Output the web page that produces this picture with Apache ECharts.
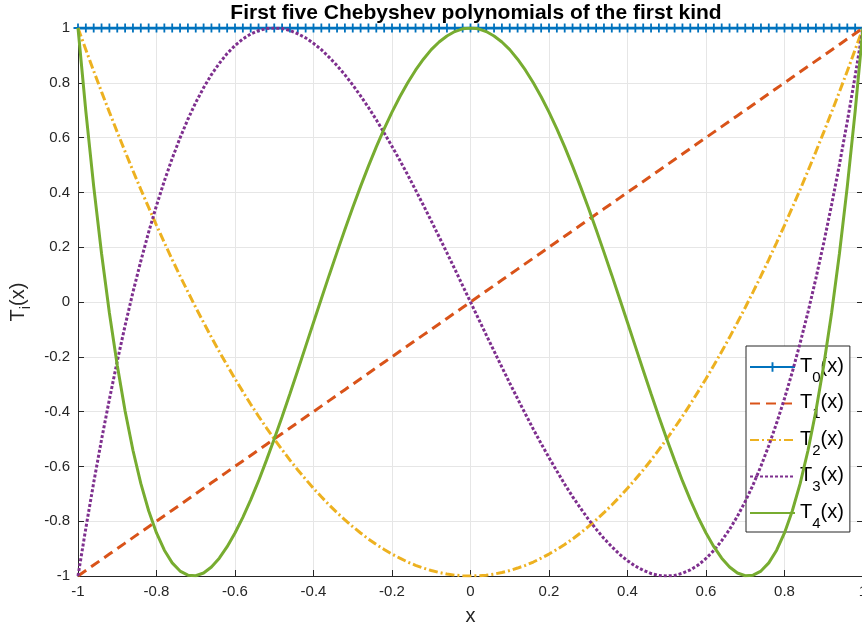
<!DOCTYPE html>
<html>
<head>
<meta charset="utf-8">
<script src="https://cdn.jsdelivr.net/npm/echarts@6/dist/echarts.min.js"></script>
<style>
  html, body { margin: 0; padding: 0; background: #fff; }
  #chart { width: 862px; height: 630px; }
</style>
</head>
<body>
<div id="chart"></div>
<script>
  // sample points, x = -1 : 0.02 : 1
  var xs = [-1,-0.98,-0.96,-0.94,-0.92,-0.9,-0.88,-0.86,-0.84,-0.82,-0.8,-0.78,-0.76,-0.74,-0.72,-0.7,-0.68,-0.66,-0.64,-0.62,-0.6,-0.58,-0.56,-0.54,-0.52,-0.5,-0.48,-0.46,-0.44,-0.42,-0.4,-0.38,-0.36,-0.34,-0.32,-0.3,-0.28,-0.26,-0.24,-0.22,-0.2,-0.18,-0.16,-0.14,-0.12,-0.1,-0.08,-0.06,-0.04,-0.02,
    0,0.02,0.04,0.06,0.08,0.1,0.12,0.14,0.16,0.18,0.2,0.22,0.24,0.26,0.28,0.3,0.32,0.34,0.36,0.38,0.4,0.42,0.44,0.46,0.48,0.5,0.52,0.54,0.56,0.58,0.6,0.62,0.64,0.66,0.68,0.7,0.72,0.74,0.76,0.78,0.8,0.82,0.84,0.86,0.88,0.9,0.92,0.94,0.96,0.98,1];

  var t0 = [1,1,1,1,1,1,1,1,1,1,1,1,1,1,1,1,1,1,1,1,1,1,1,1,1,1,1,1,1,1,1,1,1,1,1,1,1,1,1,1,1,1,1,1,1,1,1,1,1,1,
    1,1,1,1,1,1,1,1,1,1,1,1,1,1,1,1,1,1,1,1,1,1,1,1,1,1,1,1,1,1,1,1,1,1,1,1,1,1,1,1,1,1,1,1,1,1,1,1,1,1,1];

  var t1 = [-1,-0.98,-0.96,-0.94,-0.92,-0.9,-0.88,-0.86,-0.84,-0.82,-0.8,-0.78,-0.76,-0.74,-0.72,-0.7,-0.68,-0.66,-0.64,-0.62,-0.6,-0.58,-0.56,-0.54,-0.52,-0.5,-0.48,-0.46,-0.44,-0.42,-0.4,-0.38,-0.36,-0.34,-0.32,-0.3,-0.28,-0.26,-0.24,-0.22,-0.2,-0.18,-0.16,-0.14,-0.12,-0.1,-0.08,-0.06,-0.04,-0.02,
    0,0.02,0.04,0.06,0.08,0.1,0.12,0.14,0.16,0.18,0.2,0.22,0.24,0.26,0.28,0.3,0.32,0.34,0.36,0.38,0.4,0.42,0.44,0.46,0.48,0.5,0.52,0.54,0.56,0.58,0.6,0.62,0.64,0.66,0.68,0.7,0.72,0.74,0.76,0.78,0.8,0.82,0.84,0.86,0.88,0.9,0.92,0.94,0.96,0.98,1];

  var t2 = [1,0.921,0.843,0.767,0.693,0.62,0.549,0.479,0.411,0.345,0.28,0.217,0.155,0.095,0.037,-0.02,-0.075,-0.129,-0.181,-0.231,-0.28,-0.327,-0.373,-0.417,-0.459,-0.5,-0.539,-0.577,-0.613,-0.647,-0.68,-0.711,-0.741,-0.769,-0.795,-0.82,-0.843,-0.865,-0.885,-0.903,-0.92,-0.935,-0.949,-0.961,-0.971,-0.98,-0.987,-0.993,-0.997,-0.999,
    -1,-0.999,-0.997,-0.993,-0.987,-0.98,-0.971,-0.961,-0.949,-0.935,-0.92,-0.903,-0.885,-0.865,-0.843,-0.82,-0.795,-0.769,-0.741,-0.711,-0.68,-0.647,-0.613,-0.577,-0.539,-0.5,-0.459,-0.417,-0.373,-0.327,-0.28,-0.231,-0.181,-0.129,-0.075,-0.02,0.037,0.095,0.155,0.217,0.28,0.345,0.411,0.479,0.549,0.62,0.693,0.767,0.843,0.921,1];

  var t3 = [-1,-0.825,-0.659,-0.502,-0.355,-0.216,-0.086,0.036,0.149,0.255,0.352,0.442,0.524,0.599,0.667,0.728,0.782,0.83,0.871,0.907,0.936,0.96,0.978,0.99,0.998,1,0.998,0.991,0.979,0.964,0.944,0.921,0.893,0.863,0.829,0.792,0.752,0.71,0.665,0.617,0.568,0.517,0.464,0.409,0.353,0.296,0.238,0.179,0.12,0.06,
    0,-0.06,-0.12,-0.179,-0.238,-0.296,-0.353,-0.409,-0.464,-0.517,-0.568,-0.617,-0.665,-0.71,-0.752,-0.792,-0.829,-0.863,-0.893,-0.921,-0.944,-0.964,-0.979,-0.991,-0.998,-1,-0.998,-0.99,-0.978,-0.96,-0.936,-0.907,-0.871,-0.83,-0.782,-0.728,-0.667,-0.599,-0.524,-0.442,-0.352,-0.255,-0.149,-0.036,0.086,0.216,0.355,0.502,0.659,0.825,1];

  var t4 = [1,0.696,0.422,0.177,-0.04,-0.231,-0.398,-0.541,-0.662,-0.762,-0.843,-0.906,-0.952,-0.982,-0.997,-0.999,-0.989,-0.967,-0.935,-0.893,-0.843,-0.786,-0.722,-0.653,-0.578,-0.5,-0.419,-0.335,-0.249,-0.162,-0.075,0.012,0.098,0.182,0.265,0.345,0.422,0.496,0.566,0.632,0.693,0.749,0.8,0.846,0.886,0.921,0.949,0.971,0.987,0.997,
    1,0.997,0.987,0.971,0.949,0.921,0.886,0.846,0.8,0.749,0.693,0.632,0.566,0.496,0.422,0.345,0.265,0.182,0.098,0.012,-0.075,-0.162,-0.249,-0.335,-0.419,-0.5,-0.578,-0.653,-0.722,-0.786,-0.843,-0.893,-0.935,-0.967,-0.989,-0.999,-0.997,-0.982,-0.952,-0.906,-0.843,-0.762,-0.662,-0.541,-0.398,-0.231,-0.04,0.177,0.422,0.696,1];

  var seriesNames = ['T0', 'T1', 'T2', 'T3', 'T4'];
  var subs = ['0', '1', '2', '3', '4'];
  var colors = ['#0072BD', '#D95319', '#EDB120', '#7E2F8E', '#77AC30'];

  function pairs(ys) {
    return xs.map(function (x, i) { return [x, ys[i]]; });
  }

  var fontFam = '"Liberation Sans", Arial, Helvetica, sans-serif';
  var axisColor = '#262626';
  var gridColor = '#e6e6e6';
  var plus = 'path://M4,0H6V4H10V6H6V10H4V6H0V4H4Z';

  var chart = echarts.init(document.getElementById('chart'));

  var tickFmt = function (v) { return String(Math.round(v * 10) / 10); };

  var option = {
    backgroundColor: '#fff',
    animation: false,
    textStyle: { fontFamily: fontFam },
    title: {
      text: 'First five Chebyshev polynomials of the first kind',
      left: 471, textAlign: 'center', top: -2,
      textStyle: { fontSize: 21, fontWeight: 'bold', color: '#000', fontFamily: fontFam }
    },
    grid: { left: 78, width: 785, top: 28, bottom: 54, containLabel: false, outerBoundsMode: 'none' },
    legend: {
      orient: 'vertical',
      left: 746, top: 346,
      backgroundColor: '#fff',
      borderColor: axisColor, borderWidth: 1, borderRadius: 0,
      padding: [10, 6, 1, 3],
      itemWidth: 45, itemHeight: 12, itemGap: 7.5,
      data: seriesNames.map(function (n, k) {
        return k === 0 ? { name: n } : { name: n, itemStyle: { opacity: 0 } };
      }),
      formatter: function (name) {
        var k = seriesNames.indexOf(name);
        return '{a|T}{b|' + subs[k] + '}{a|(x)}';
      },
      textStyle: {
        rich: {
          a: { fontSize: 20, color: '#000', fontFamily: fontFam, verticalAlign: 'top', lineHeight: 22 },
          b: { fontSize: 15, color: '#000', fontFamily: fontFam, verticalAlign: 'top', lineHeight: 15, padding: [14, 0, 0, 0] }
        }
      }
    },
    xAxis: [{
      type: 'value', min: -1, max: 1, interval: 0.2,
      name: 'x', nameLocation: 'middle', nameGap: 30,
      nameTextStyle: { fontSize: 20, color: axisColor, fontFamily: fontFam },
      axisLine: { onZero: false, lineStyle: { color: axisColor, width: 1 } },
      axisTick: { inside: true, length: 6, lineStyle: { color: axisColor } },
      axisLabel: { fontSize: 15, color: axisColor, margin: 8, formatter: tickFmt },
      splitLine: { show: true, lineStyle: { color: gridColor, width: 1 } }
    }],
    yAxis: [{
      type: 'value', min: -1, max: 1, interval: 0.2,
      name: '{a|T}{b|i}{a|(x)}', nameLocation: 'middle', nameGap: 44, nameRotate: 90,
      nameTextStyle: {
        rich: {
          a: { fontSize: 20, color: axisColor, fontFamily: fontFam },
          b: { fontSize: 15, color: axisColor, fontFamily: fontFam, padding: [14, 0, 0, 0] }
        }
      },
      axisLine: { onZero: false, lineStyle: { color: axisColor, width: 1 } },
      axisTick: { inside: true, length: 6, lineStyle: { color: axisColor } },
      axisLabel: { fontSize: 15, color: axisColor, margin: 8, formatter: tickFmt },
      splitLine: { show: true, lineStyle: { color: gridColor, width: 1 } }
    }, {
      type: 'value', min: -1, max: 1, interval: 0.2, position: 'right',
      axisLine: { show: true, onZero: false, lineStyle: { color: axisColor, width: 1 } },
      axisTick: { show: true, inside: true, length: 6, lineStyle: { color: axisColor } },
      axisLabel: { show: false },
      splitLine: { show: false }
    }],
    series: [
      {
        name: 'T0', type: 'line', data: pairs(t0), color: colors[0],
        symbol: plus, symbolSize: 9, showSymbol: true,
        itemStyle: { color: colors[0] },
        lineStyle: { color: colors[0], width: 3 }, z: 2
      },
      {
        name: 'T1', type: 'line', data: pairs(t1), color: colors[1], showSymbol: false,
        lineStyle: { color: colors[1], width: 3, type: [10, 6] }, z: 3
      },
      {
        name: 'T2', type: 'line', data: pairs(t2), color: colors[2], showSymbol: false,
        lineStyle: { color: colors[2], width: 3, type: [9, 3, 2, 3] }, z: 4
      },
      {
        name: 'T3', type: 'line', data: pairs(t3), color: colors[3], showSymbol: false,
        lineStyle: { color: colors[3], width: 3, type: [3, 2] }, z: 5
      },
      {
        name: 'T4', type: 'line', data: pairs(t4), color: colors[4], showSymbol: false,
        lineStyle: { color: colors[4], width: 3 }, z: 6
      }
    ]
  };

  chart.setOption(option);
</script>
</body>
</html>
